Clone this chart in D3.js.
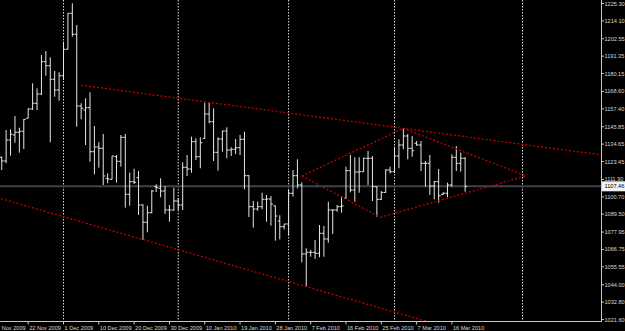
<!DOCTYPE html>
<html><head><meta charset="utf-8">
<script src="https://cdn.jsdelivr.net/npm/d3@7"></script>
<style>html,body{margin:0;padding:0;background:#000;overflow:hidden}svg{display:block}</style>
</head><body><svg id="c" width="625" height="331"></svg>
<script>
// ---- data (bar index 0 = 12 Nov 2009; first visible bar has index 2) ----
const firstBar = 2;
const open = [
1126.16,1123.78,1137.31,1140.54,1142.28,1142.92,1151.30,1157.30,1160.97,1166.97,
1187.79,1185.21,1176.44,1169.54,1178.76,1195.78,1218.99,1205.45,1159.23,1156.65,
1158.13,1129.77,1132.80,1131.96,1112.62,1111.98,1126.55,1123.58,1139.05,1102.31,
1110.43,1113.01,1095.41,1084.26,1090.45,1107.21,1106.18,1104.44,1092.19,1092.19,
1097.99,1095.41,1119.72,1118.62,1136.22,1126.55,1138.41,1154.07,1149.11,1129.38,
1137.96,1143.11,1130.87,1131.32,1132.35,1137.76,1114.30,1094.32,1092.83,1094.32,
1099.09,1099.28,1094.90,1085.10,1081.42,1083.17,1102.95,1114.30,1108.31,1063.83,
1064.92,1064.92,1064.28,1077.17,1073.50,1092.19,1092.19,1094.32,1099.73,1117.52,
1105.08,1116.69,1116.88,1125.52,1125.52,1107.21,1099.09,1103.50,1117.97,1116.88,
1127.00,1134.09,1139.89,1131.96,1135.19,1134.09,1122.29,1122.29,1107.66,1110.43,
1102.20,1103.00,1108.31,1126.16,1122.29,1125.52];
const high = [
1126.55,1143.76,1144.21,1152.78,1145.24,1150.85,1157.75,1173.86,1170.64,1192.11,
1194.68,1190.62,1181.79,1180.95,1200.68,1218.99,1225.43,1211.44,1160.97,1164.19,
1168.06,1146.34,1135.83,1141.18,1115.85,1127.00,1127.64,1140.54,1141.18,1116.23,
1118.81,1117.33,1095.86,1094.96,1105.08,1108.76,1112.62,1107.66,1095.41,1106.56,
1099.73,1122.94,1127.64,1139.44,1138.41,1139.05,1161.36,1161.36,1157.75,1139.05,
1143.31,1145.50,1132.61,1137.96,1140.54,1142.66,1114.75,1097.99,1097.54,1103.34,
1101.86,1101.21,1094.96,1088.77,1083.17,1105.08,1117.97,1124.87,1110.05,1067.50,
1066.40,1072.85,1082.52,1081.88,1097.54,1092.64,1095.41,1101.21,1120.10,1127.64,
1126.16,1126.16,1125.90,1130.22,1127.00,1107.66,1104.44,1118.43,1120.10,1132.99,
1137.76,1144.85,1141.18,1139.89,1136.67,1136.67,1123.78,1127.64,1110.88,1118.62,
1103.60,1109.79,1128.10,1133.45,1129.13,1126.16];
const low = [
1117.97,1122.29,1127.19,1135.57,1129.13,1131.51,1151.30,1156.65,1156.65,1166.32,
1178.76,1135.83,1165.22,1162.65,1175.99,1195.78,1203.90,1145.89,1150.66,1134.09,
1123.33,1115.20,1119.46,1108.31,1109.40,1111.98,1109.79,1120.10,1093.67,1094.96,
1108.95,1088.97,1072.85,1077.81,1090.06,1103.79,1100.38,1089.61,1084.65,1091.74,
1092.19,1092.19,1114.11,1116.23,1124.42,1119.07,1137.96,1148.08,1123.78,1117.52,
1129.77,1125.52,1127.00,1128.29,1127.64,1105.53,1087.68,1080.78,1091.74,1092.64,
1084.65,1082.07,1072.40,1073.30,1079.75,1075.62,1100.76,1106.18,1058.48,1042.75,
1062.09,1060.60,1061.70,1062.09,1071.11,1076.72,1091.09,1090.45,1099.28,1103.60,
1097.54,1103.34,1116.69,1108.31,1097.99,1087.87,1098.64,1103.34,1115.85,1116.04,
1119.07,1131.32,1124.87,1126.55,1133.64,1117.33,1107.21,1101.86,1099.09,1096.90,
1101.86,1100.38,1107.21,1117.33,1116.88,1103.99];
const close = [
1123.78,1137.31,1140.99,1142.28,1142.92,1150.66,1157.30,1160.97,1166.97,1187.79,
1185.21,1176.44,1169.54,1178.76,1195.78,1218.99,1205.45,1159.23,1157.75,1158.13,
1129.77,1132.80,1131.96,1114.11,1112.17,1127.00,1123.58,1139.05,1102.31,1110.43,
1110.05,1095.41,1084.26,1090.45,1104.44,1106.56,1104.44,1092.19,1092.19,1097.99,
1095.41,1119.72,1118.62,1136.22,1126.55,1135.57,1154.07,1149.11,1129.38,1137.96,
1143.11,1130.87,1131.32,1132.35,1137.76,1114.30,1094.32,1092.83,1094.32,1099.09,
1099.28,1096.00,1088.32,1081.42,1083.17,1102.95,1114.30,1108.31,1063.83,1064.92,
1064.92,1064.28,1077.17,1073.50,1092.19,1092.19,1094.32,1094.77,1117.52,1105.08,
1116.69,1116.88,1125.52,1125.52,1107.21,1099.09,1103.50,1117.97,1116.88,1127.00,
1134.09,1139.89,1131.96,1130.42,1134.09,1122.29,1122.29,1107.66,1110.43,1101.41,
1103.00,1108.31,1126.16,1122.29,1125.52,1107.46];
const timeLabels = ["12 Nov 2009","22 Nov 2009","1 Dec 2009","10 Dec 2009","20 Dec 2009",
  "30 Dec 2009","10 Jan 2010","19 Jan 2010","28 Jan 2010","7 Feb 2010","16 Feb 2010",
  "25 Feb 2010","7 Mar 2010","16 Mar 2010"];
const timeLabelStep = 8;
const monthStarts = [16, 42, 67, 91, 120];
const priceLabels = [1225.30,1214.10,1202.55,1191.35,1180.15,1168.60,1157.40,1145.85,
  1134.65,1123.45,1111.90,1100.70,1089.50,1077.95,1066.75,1055.55,1044.00,1032.80,1021.60];
const lastPrice = 1107.46;
// trend lines: [barIndex1, price1, barIndex2, price2, extendRight]
const trendLines = [
  [20, 1172.6, 93, 1144.8, true],
  [1, 1100.2, 71, 1042.75, true],
  [70, 1114.1, 93, 1144.85, false],
  [70, 1114.1, 87.8, 1087.5, false],
  [93, 1144.85, 120.8, 1114.1, false],
  [87.8, 1087.5, 120.8, 1114.1, false]
];

// ---- layout ----
const W = 625, H = 331, plotR = 601, plotB = 321.5;
const svg = d3.select("#c");
svg.append("rect").attr("width", W).attr("height", H).attr("fill", "#000");

const x = d3.scaleLinear().domain([8, 104]).range([28.2, 28.2 + 96 * 4.4135]);
const y = d3.scaleLinear().domain([1021.6, 1225.3]).range([319.5, 3.5]);

svg.append("clipPath").attr("id", "plot").append("rect")
  .attr("x", 0).attr("y", 0).attr("width", plotR).attr("height", plotB);
const g = svg.append("g").attr("clip-path", "url(#plot)");

// month grid
g.selectAll("line.grid").data(monthStarts).join("line")
  .attr("x1", d => x(d)).attr("x2", d => x(d))
  .attr("y1", 0).attr("y2", plotB)
  .attr("stroke", "#d8d8d8").attr("stroke-width", 1)
  .attr("stroke-dasharray", "1.5,1.5");

// current price line
g.append("line").attr("x1", 0).attr("x2", plotR)
  .attr("y1", y(lastPrice)).attr("y2", y(lastPrice))
  .attr("stroke", "#3b434c").attr("stroke-width", 2);

// bars
const bars = open.map((o, i) => ({i: firstBar + i, o, h: high[i], l: low[i], c: close[i]}));
const bg = g.append("g").attr("stroke", "#e6e6e6").attr("stroke-width", 1);
bars.forEach(b => {
  const cx = x(b.i);
  bg.append("line").attr("x1", cx).attr("x2", cx).attr("y1", y(b.h)).attr("y2", y(b.l));
  bg.append("line").attr("x1", cx - 2).attr("x2", cx).attr("y1", y(b.o)).attr("y2", y(b.o));
  bg.append("line").attr("x1", cx).attr("x2", cx + 2).attr("y1", y(b.c)).attr("y2", y(b.c));
});

// trend lines
const xMax = x.invert(plotR + 2);
trendLines.forEach(([a1, p1, a2, p2, ext]) => {
  let ex = a2, ep = p2;
  if (ext) { ex = xMax; ep = p1 + (p2 - p1) * (xMax - a1) / (a2 - a1); }
  g.append("line")
    .attr("x1", x(a1)).attr("y1", y(p1)).attr("x2", x(ex)).attr("y2", y(ep))
    .attr("stroke", "#d00000").attr("stroke-width", 1.2)
    .attr("stroke-dasharray", "2,2");
});

// axes frame
svg.append("line").attr("x1", plotR + 0.5).attr("x2", plotR + 0.5).attr("y1", 0).attr("y2", plotB + 0.5)
  .attr("stroke", "#c8c8c8").attr("shape-rendering", "crispEdges");
svg.append("line").attr("x1", 0).attr("x2", plotR + 0.5).attr("y1", plotB).attr("y2", plotB)
  .attr("stroke", "#c8c8c8").attr("shape-rendering", "crispEdges");

const font = "'Liberation Sans', Arial, sans-serif";
// price labels
const pl = svg.append("g");
priceLabels.forEach(p => {
  pl.append("line").attr("x1", plotR + 1).attr("x2", plotR + 3).attr("y1", y(p)).attr("y2", y(p))
    .attr("stroke", "#c8c8c8");
  pl.append("text").attr("x", plotR + 3.5).attr("y", y(p) + 2)
    .attr("font-family", font).attr("font-size", 5.6).attr("fill", "#d8d8d8")
    .text(p.toFixed(2));
});
// current price box
svg.append("rect").attr("x", plotR + 1).attr("y", y(lastPrice) - 5).attr("width", 23).attr("height", 10)
  .attr("fill", "#f2f2f2");
svg.append("text").attr("x", plotR + 3.5).attr("y", y(lastPrice) + 2)
  .attr("font-family", font).attr("font-size", 5.6).attr("fill", "#000")
  .text(lastPrice.toFixed(2));

// time labels
const tl = svg.append("g");
timeLabels.forEach((t, k) => {
  const tx = x(k * timeLabelStep);
  tl.append("line").attr("x1", tx).attr("x2", tx).attr("y1", plotB).attr("y2", plotB + 3)
    .attr("stroke", "#c8c8c8");
  tl.append("text").attr("x", tx + 1).attr("y", 329.5)
    .attr("font-family", font).attr("font-size", 5.6).attr("fill", "#d8d8d8")
    .text(t);
});
</script></body></html>
